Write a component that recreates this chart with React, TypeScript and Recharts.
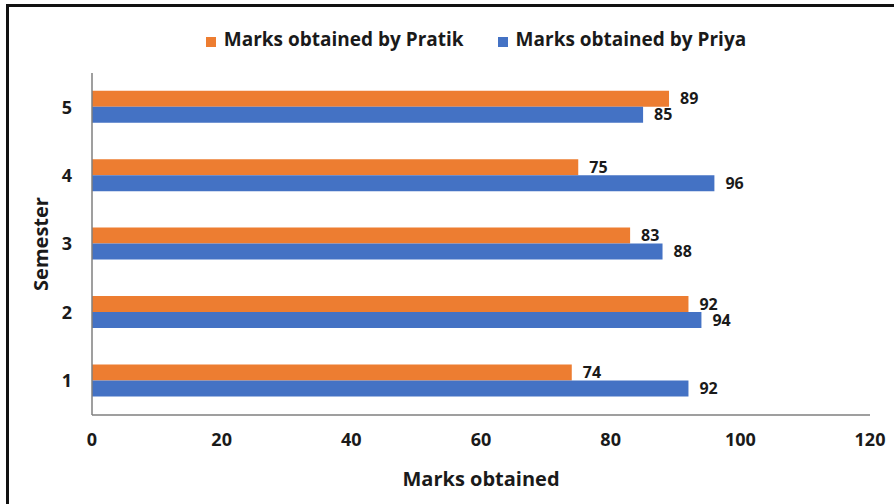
import { BarChart, Bar, XAxis, YAxis, Legend, LabelList, Label } from 'recharts';

const semesters = ['1', '2', '3', '4', '5'];
const pratikMarks = [74, 92, 83, 75, 89];
const priyaMarks = [92, 94, 88, 96, 85];
const xTicks = [0, 20, 40, 60, 80, 100, 120];

const data = semesters.map((s, i) => ({
  semester: s,
  pratik: pratikMarks[i],
  priya: priyaMarks[i],
}));

const FONT = '"Open Sans", Lato, sans-serif';
const INK = '#1a1a1a';

export default function App() {
  return (
    <div style={{ position: 'absolute', left: 0, top: 0, width: 894, height: 504, overflow: 'hidden', background: '#fff', fontFamily: FONT }}>
      <div style={{ position: 'absolute', left: 6, top: 4, width: 920, height: 540, border: '3px solid #111' }} />
      <div style={{ position: 'absolute', left: 0, top: 0 }}>
        <BarChart
          width={894}
          height={504}
          data={data}
          layout="vertical"
          margin={{ top: 46, right: 24, bottom: 19, left: 30 }}
          barCategoryGap="26%"
          barGap={0}
        >
          <Legend
            verticalAlign="top"
            iconType="square"
            iconSize={10}
            wrapperStyle={{ top: 26, left: 92, width: 778, lineHeight: '26px' }}
            formatter={(value, entry, index) => (
              <span style={{ color: INK, fontWeight: 700, fontSize: 19, fontFamily: FONT, marginLeft: 4, marginRight: index === 0 ? 24 : 0 }}>{value}</span>
            )}
          />
          <XAxis
            type="number"
            domain={[0, 120]}
            ticks={xTicks}
            height={70}
            axisLine={{ stroke: '#7f7f7f', strokeWidth: 1.5 }}
            tickLine={false}
            tickSize={0}
            tickMargin={18}
            tick={{ fill: INK, fontSize: 18, fontWeight: 700, fontFamily: FONT }}
          >
            <Label
              value="Marks obtained"
              position="insideBottom"
              offset={-1}
              style={{ fill: INK, fontSize: 20, fontWeight: 700, fontFamily: FONT }}
            />
          </XAxis>
          <YAxis
            type="category"
            dataKey="semester"
            reversed
            width={62}
            axisLine={{ stroke: '#7f7f7f', strokeWidth: 1.5 }}
            tickLine={false}
            tickSize={0}
            tickMargin={20}
            tick={{ fill: INK, fontSize: 18, fontWeight: 700, fontFamily: FONT }}
          >
            <Label
              value="Semester"
              angle={-90}
              position="insideLeft"
              offset={11}
              style={{ fill: INK, fontSize: 20, fontWeight: 700, fontFamily: FONT, textAnchor: 'middle' }}
            />
          </YAxis>
          <Bar dataKey="pratik" name="Marks obtained by Pratik" fill="#ED7D31" isAnimationActive={false}>
            <LabelList dataKey="pratik" position="right" offset={11} style={{ fill: INK, fontSize: 16, fontWeight: 700, fontFamily: FONT }} />
          </Bar>
          <Bar dataKey="priya" name="Marks obtained by Priya" fill="#4472C4" isAnimationActive={false}>
            <LabelList dataKey="priya" position="right" offset={11} style={{ fill: INK, fontSize: 16, fontWeight: 700, fontFamily: FONT }} />
          </Bar>
        </BarChart>
      </div>
    </div>
  );
}
